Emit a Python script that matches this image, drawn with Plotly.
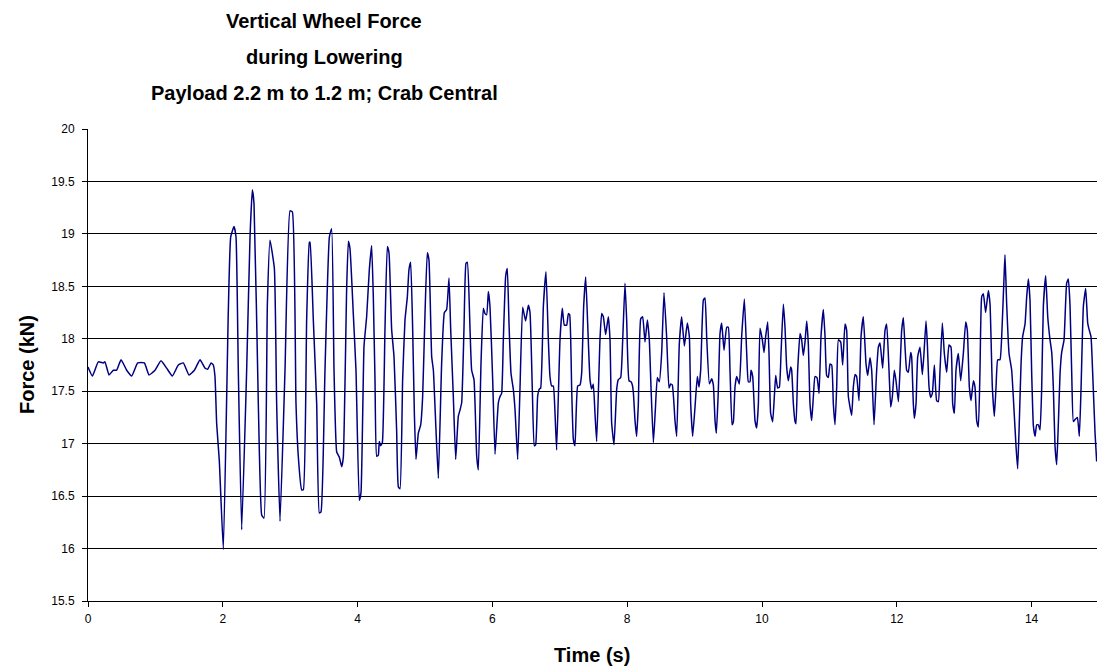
import plotly.graph_objects as go

time_s = [
    0.000, 0.065, 0.153, 0.227, 0.252, 0.312, 0.376, 0.425, 0.490, 0.574, 0.648, 0.737, 0.836, 0.905,
    0.994, 1.083, 1.167, 1.251, 1.340, 1.414, 1.499, 1.578, 1.662, 1.736, 1.776, 1.825,
    1.859, 1.884, 1.909, 1.948, 2.008, 2.082, 2.117, 2.166, 2.196, 2.230, 2.280, 2.354, 2.404, 2.438,
    2.463, 2.527, 2.577, 2.611, 2.661, 2.700, 2.765, 2.799, 2.849, 2.923, 2.997, 3.032, 3.086, 3.121,
    3.170, 3.195, 3.244, 3.284, 3.294, 3.343, 3.393, 3.432, 3.457, 3.516, 3.581, 3.615, 3.650, 3.690,
    3.729, 3.764, 3.788, 3.838, 3.863, 3.887,
    3.936, 3.976, 4.025, 4.050, 4.095, 4.134, 4.174, 4.208, 4.233, 4.258, 4.283, 4.307, 4.322, 4.342,
    4.367, 4.406, 4.441, 4.466, 4.505, 4.540, 4.579, 4.604, 4.629, 4.668, 4.703, 4.738, 4.762, 4.787,
    4.817, 4.842, 4.866, 4.901, 4.936, 4.965, 5.000, 5.034, 5.059, 5.099, 5.124, 5.163, 5.198, 5.247,
    5.287, 5.321, 5.356, 5.381, 5.420, 5.455, 5.494, 5.519, 5.544, 5.578, 5.608, 5.628, 5.668, 5.692,
    5.727, 5.767, 5.791, 5.831, 5.865, 5.890, 5.915, 5.940, 5.964, 6.004, 6.039,
    6.088, 6.113, 6.137, 6.162, 6.197, 6.221, 6.246, 6.276, 6.310, 6.335, 6.375, 6.409, 6.449, 6.493,
    6.533, 6.558, 6.592, 6.622, 6.642, 6.671, 6.696, 6.716, 6.756, 6.795, 6.830, 6.854, 6.879, 6.904,
    6.929, 6.953, 7.003, 7.037, 7.067, 7.102, 7.127, 7.146, 7.176, 7.201, 7.225, 7.265, 7.300, 7.324,
    7.354, 7.384, 7.413, 7.448, 7.473, 7.497, 7.522, 7.547, 7.596, 7.621, 7.646, 7.680, 7.720, 7.745,
    7.769, 7.804, 7.844, 7.868, 7.903, 7.933, 7.967,
    7.992, 8.027, 8.056, 8.076, 8.091, 8.116, 8.140, 8.165, 8.200, 8.229, 8.264, 8.299, 8.328, 8.353,
    8.388, 8.417, 8.447, 8.477, 8.511, 8.546, 8.585, 8.620, 8.645, 8.669, 8.709, 8.734, 8.773, 8.808,
    8.848, 8.892, 8.922, 8.942, 8.971, 9.006, 9.040, 9.065, 9.090, 9.130, 9.154, 9.179, 9.219, 9.253,
    9.278, 9.303, 9.322, 9.352, 9.377, 9.402, 9.436, 9.476, 9.500, 9.525, 9.555, 9.575, 9.599, 9.624,
    9.664, 9.698, 9.738, 9.773, 9.797, 9.822, 9.837, 9.862, 9.896, 9.921, 9.946, 9.970, 10.005, 10.030,
    10.054, 10.084, 10.104, 10.128, 10.158, 10.183, 10.203, 10.232, 10.257, 10.282, 10.316, 10.341,
    10.366, 10.391, 10.425, 10.440, 10.465, 10.490, 10.504, 10.529, 10.564, 10.588, 10.613, 10.638,
    10.663, 10.687, 10.712, 10.737, 10.762, 10.786, 10.816, 10.846, 10.875, 10.910, 10.935, 10.959,
    10.984, 11.009, 11.034, 11.058, 11.083, 11.108, 11.133, 11.167, 11.197, 11.231, 11.256, 11.281,
    11.330, 11.355, 11.380, 11.404, 11.439, 11.469, 11.503, 11.543, 11.568, 11.602, 11.627, 11.662,
    11.701, 11.726, 11.751, 11.790, 11.825, 11.850, 11.884, 11.909, 11.934, 11.963, 11.988, 12.023,
    12.047, 12.072, 12.097, 12.122, 12.146, 12.171, 12.206, 12.220, 12.245, 12.260, 12.285, 12.310,
    12.344, 12.379, 12.403, 12.433, 12.453, 12.478, 12.502, 12.527, 12.557, 12.591, 12.616, 12.641,
    12.675, 12.705, 12.740, 12.774, 12.804, 12.829, 12.854, 12.878, 12.913, 12.948, 12.987, 13.022,
    13.046, 13.076, 13.101, 13.136, 13.160, 13.185, 13.210, 13.234, 13.259, 13.284, 13.318, 13.358,
    13.383, 13.417, 13.447, 13.472, 13.497, 13.531, 13.556, 13.591, 13.605, 13.630, 13.665, 13.704,
    13.739, 13.769, 13.793, 13.818, 13.843, 13.867, 13.902, 13.927, 13.951,
    13.976, 14.001, 14.026, 14.051, 14.075, 14.100, 14.125, 14.149, 14.174, 14.209, 14.239, 14.273,
    14.298, 14.323, 14.347, 14.372, 14.397, 14.422, 14.446, 14.481, 14.520, 14.545, 14.570, 14.595,
    14.619, 14.644, 14.679, 14.708, 14.733, 14.768, 14.802, 14.832, 14.852, 14.881, 14.906, 14.941,
    14.965,
]

force_kn = [
    17.73, 17.645, 17.78, 17.77, 17.78, 17.655, 17.70, 17.70, 17.80, 17.70, 17.645, 17.77, 17.77, 17.655,
    17.70, 17.79, 17.72, 17.645, 17.75, 17.77, 17.655, 17.70, 17.80, 17.72, 17.71, 17.77,
    17.75, 17.64, 17.19, 16.84, 15.99, 18.27, 18.97, 19.07, 18.97, 17.70, 16.18, 17.70, 18.97, 19.42,
    19.29, 17.38, 16.32, 16.29, 18.33, 18.94, 18.67, 17.38, 16.26, 17.70, 19.22, 19.21, 17.38, 16.87,
    16.56, 16.56, 18.18, 18.92, 18.92, 18.18, 17.38, 16.34, 16.35, 17.70, 18.97, 19.05, 17.70, 16.92,
    16.87, 16.78, 16.87, 18.49, 18.93, 18.86,
    18.24, 17.70, 16.46, 16.53, 17.93, 18.21, 18.66, 18.89, 18.40, 17.61, 16.88, 16.89, 17.02, 16.98,
    17.01, 18.09, 18.88, 18.82, 18.09, 17.83, 17.13, 16.59, 16.57, 17.61, 18.18, 18.40, 18.66, 18.73,
    18.09, 17.29, 16.85, 17.10, 17.18, 17.45, 18.24, 18.82, 18.75, 17.83, 17.70, 17.13, 16.67, 17.77,
    18.25, 18.28, 18.58, 18.09, 17.45, 16.85, 17.26, 17.32, 17.39, 18.09, 18.72, 18.73, 18.09, 17.70,
    17.61, 16.88, 16.75, 17.77, 18.29, 18.24, 18.23, 18.45, 18.31, 17.61, 16.90,
    17.39, 17.45, 17.48, 17.99, 18.60, 18.67, 18.15, 17.67, 17.52, 17.33, 16.85, 17.52, 18.30, 18.17,
    18.32, 18.25, 17.52, 16.98, 16.99, 17.45, 17.52, 17.53, 18.31, 18.64, 17.99, 17.64, 17.55, 17.55,
    17.29, 16.94, 17.99, 18.29, 18.13, 18.13, 18.24, 18.23, 17.52, 17.04, 16.98, 17.55, 17.56, 17.67,
    18.31, 18.59, 18.15, 17.61, 17.52, 17.57, 17.29, 17.02, 17.99, 18.24, 18.21, 18.04, 18.21, 17.99,
    17.20, 16.99, 17.52, 17.61, 17.63, 17.99, 18.53,
    18.18, 17.60, 17.59, 17.56, 17.49, 17.22, 17.07, 17.38, 18.19, 18.21, 17.97, 18.18, 17.99, 17.54,
    17.01, 17.32, 17.63, 17.59, 17.86, 18.44, 18.02, 17.53, 17.57, 17.56, 17.22, 17.07, 17.95, 18.21,
    17.93, 18.15, 18.02, 17.38, 17.07, 17.35, 17.64, 17.54, 17.70, 18.37, 18.39, 18.02, 17.57, 17.62,
    17.56, 17.22, 17.10, 17.51, 18.05, 18.15, 17.89, 18.11, 18.11, 17.70, 17.18, 17.21, 17.54, 17.64,
    17.57, 18.02, 18.38, 17.86, 17.59, 17.59, 17.70, 17.64, 17.22, 17.15, 17.38, 18.10, 17.99, 17.87,
    18.02, 18.16, 17.86, 17.29, 17.21, 17.45, 17.65, 17.53, 17.54, 17.86, 18.33, 18.11,
    17.73, 17.60, 17.73, 17.70, 17.38, 17.21, 17.19, 17.70, 18.05, 17.99, 17.84, 17.97,
    18.17, 17.95, 17.38, 17.22, 17.45, 17.64, 17.63, 17.48, 18.02, 18.28, 18.02, 17.65,
    17.63, 17.76, 17.75, 17.38, 17.18, 17.54, 17.99, 17.97, 17.75, 18.14, 18.08, 17.45,
    17.27, 17.54, 17.66, 17.64, 17.41, 18.02, 18.21, 17.76, 17.65, 17.82, 17.70, 17.18,
    17.70, 17.92, 17.96, 17.72, 18.08, 18.14, 17.70, 17.35, 17.45, 17.70, 17.60, 17.40,
    17.70, 18.08, 18.20, 17.92, 17.70, 17.68, 17.87, 17.83, 17.38, 17.24, 17.38, 17.83,
    17.92, 17.66, 17.86, 18.17, 17.95, 17.54, 17.44, 17.48, 17.75, 17.41, 17.40, 17.70,
    18.15, 17.86, 17.68, 17.94, 17.92, 17.38, 17.29, 17.70, 17.86, 17.60, 17.86, 18.16,
    18.08, 17.54, 17.41, 17.60, 17.54, 17.22, 17.16, 17.70, 18.40, 18.43, 18.25, 18.46,
    18.33, 17.54, 17.26, 17.54, 17.80, 17.80, 18.02, 18.59, 18.80, 18.33, 17.86, 17.70,
    17.32, 16.97, 16.76, 17.22, 17.76, 18.02, 18.14, 18.40, 18.57,
    18.37, 17.67, 17.17, 17.07, 17.18, 17.18, 17.13, 17.52, 18.31, 18.60, 18.21, 17.99,
    17.87, 17.52, 16.98, 16.80, 17.20, 17.67, 17.87, 17.99, 18.53, 18.57, 18.31, 17.67,
    17.21, 17.23, 17.25, 17.07, 17.52, 18.31, 18.48, 18.15, 18.09, 18.02, 17.67, 17.10,
    16.83,
]

y_ticks = [15.5, 16, 16.5, 17, 17.5, 18, 18.5, 19, 19.5, 20]
y_tick_text = ["15.5", "16", "16.5", "17", "17.5", "18", "18.5", "19", "19.5", "20"]
x_ticks = [0, 2, 4, 6, 8, 10, 12, 14]

title_lines = ["Vertical Wheel Force", "during Lowering", "Payload 2.2 m to 1.2 m; Crab Central"]
x_title = "Time (s)"
y_title = "Force (kN)"

FONT = "Arial, 'Liberation Sans', sans-serif"

fig = go.Figure()
fig.add_trace(go.Scatter(
    x=time_s, y=force_kn, mode="lines",
    line=dict(color="#000080", width=1.5, shape="spline", smoothing=0.4),
    showlegend=False, hoverinfo="skip",
))

W, H = 1097, 672
annotations = []
for line, ypx in zip(title_lines, [21, 57, 93]):
    annotations.append(dict(
        text="<b>%s</b>" % line, xref="paper", yref="paper",
        x=(324 - 88) / 1009, y=(601 - ypx) / 472, xanchor="center", yanchor="middle",
        showarrow=False, font=dict(family=FONT, size=20, color="black"),
    ))
annotations.append(dict(
    text="<b>%s</b>" % x_title, xref="paper", yref="paper",
    x=(592 - 88) / 1009, y=(601 - 655) / 472, xanchor="center", yanchor="middle",
    showarrow=False, font=dict(family=FONT, size=20, color="black"),
))
annotations.append(dict(
    text="<b>%s</b>" % y_title, xref="paper", yref="paper", textangle=-90,
    x=(27 - 88) / 1009, y=(601 - 365) / 472, xanchor="center", yanchor="middle",
    showarrow=False, font=dict(family=FONT, size=20, color="black"),
))

fig.update_layout(
    width=W, height=H,
    margin=dict(l=88, r=0, t=129, b=71, pad=0),
    paper_bgcolor="white", plot_bgcolor="white",
    font=dict(family=FONT, size=12, color="black"),
    annotations=annotations,
    xaxis=dict(
        range=[0, 14.97], tickmode="array", tickvals=x_ticks,
        showgrid=False, zeroline=False, showline=True, linecolor="black", linewidth=1,
        ticks="outside", ticklen=5, tickcolor="black", tickfont=dict(size=12),
        ticklabelstandoff=2,
    ),
    yaxis=dict(
        range=[15.5, 20], tickmode="array", tickvals=y_ticks, ticktext=y_tick_text,
        showgrid=True, gridcolor="black", gridwidth=1, zeroline=False,
        showline=True, linecolor="black", linewidth=1,
        ticks="outside", ticklen=5, tickcolor="black", tickfont=dict(size=12),
        ticklabelstandoff=5,
    ),
)

fig.write_html("out.html")
